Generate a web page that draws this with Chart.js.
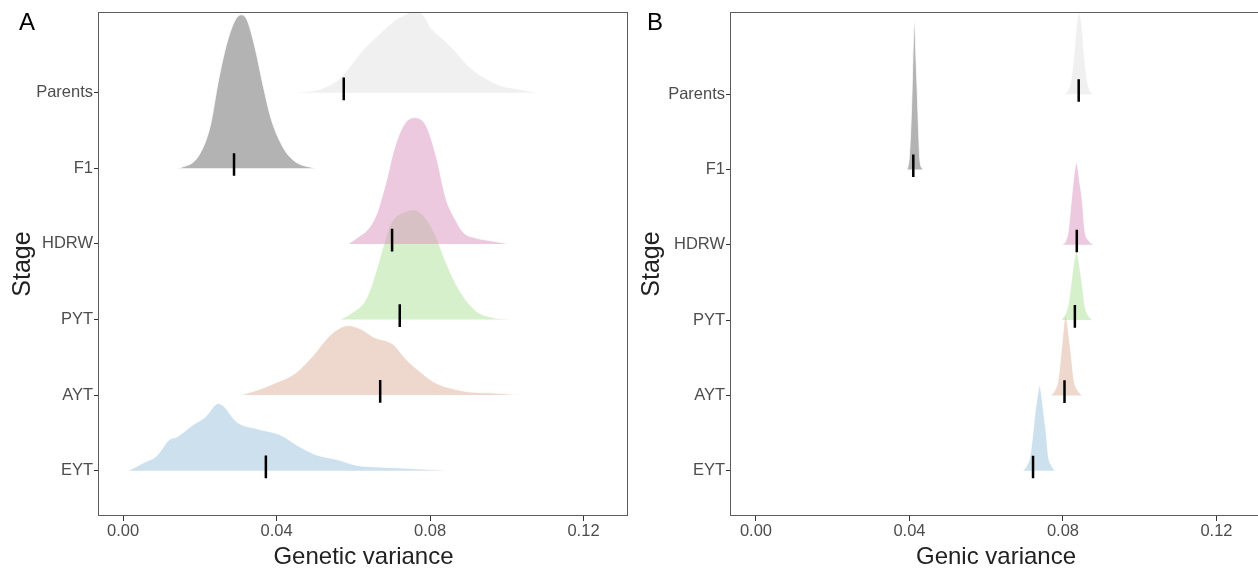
<!DOCTYPE html>
<html>
<head>
<meta charset="utf-8">
<script src="https://cdn.jsdelivr.net/npm/chart.js@4.4.1/dist/chart.umd.min.js"></script>
<style>
    body { margin: 0; width: 1258px; height: 573px; overflow: hidden; position: relative; background: #fff; }
    .panel { position: absolute; top: 0; height: 573px; }
    .tag { position: absolute; font-family: "Liberation Sans", Arial, sans-serif; font-size: 24px; color: #000; }
</style>
</head>
<body>
<div class="panel" style="left:0;width:629px"><canvas id="genetic-chart"></canvas></div>
<div class="panel" style="left:629px;width:632px"><canvas id="genic-chart"></canvas></div>
<div class="tag" style="left:19px;top:8px">A</div>
<div class="tag" style="left:647px;top:8px">B</div>
<script>
'use strict';

// stages from bottom (1) to top (6)
const stages = ['EYT', 'AYT', 'PYT', 'HDRW', 'F1', 'Parents'];
const stageLevels = [1, 2, 3, 4, 5, 6];
const xTickValues = [0, 0.04, 0.08, 0.12];

// A: genetic variance, ridge x values and scaled density heights
const geneticParentsX = [0.0451, 0.0516, 0.0558, 0.0576, 0.0623, 0.0665, 0.0707, 0.0735, 0.0761, 0.0782, 0.0803, 0.0829, 0.0858, 0.0900, 0.0944, 0.0986, 0.1027, 0.1082];
const geneticParentsD = [0, 0.05, 0.16, 0.25, 0.55, 0.76, 0.95, 1.03, 1.08, 1.03, 0.85, 0.73, 0.59, 0.35, 0.19, 0.09, 0.05, 0];
const geneticF1X = [0.0141, 0.0151, 0.0196, 0.0227, 0.0248, 0.0269, 0.0292, 0.0308, 0.0323, 0.0344, 0.0365, 0.0386, 0.0420, 0.0451, 0.0501];
const geneticF1D = [0, 0.01, 0.16, 0.56, 1.15, 1.63, 1.96, 2.03, 1.96, 1.59, 1.09, 0.65, 0.25, 0.08, 0];
const geneticHdrwX = [0.0587, 0.0610, 0.0641, 0.0662, 0.0673, 0.0689, 0.0704, 0.0730, 0.0759, 0.0790, 0.0816, 0.0842, 0.0866, 0.0887, 0.0918, 0.0960, 0.1004];
const geneticHdrwD = [0, 0.08, 0.21, 0.41, 0.59, 0.89, 1.21, 1.56, 1.67, 1.56, 1.16, 0.59, 0.32, 0.15, 0.08, 0.04, 0];
const geneticPytX = [0.0566, 0.0597, 0.0631, 0.0652, 0.0673, 0.0694, 0.0709, 0.0738, 0.0756, 0.0780, 0.0811, 0.0842, 0.0876, 0.0918, 0.0960, 0.1009];
const geneticPytD = [0, 0.09, 0.25, 0.52, 0.88, 1.23, 1.35, 1.43, 1.45, 1.39, 1.15, 0.75, 0.39, 0.12, 0.03, 0];
const geneticAytX = [0.0305, 0.0352, 0.0396, 0.0449, 0.0493, 0.0535, 0.0566, 0.0587, 0.0621, 0.0652, 0.0704, 0.0738, 0.0769, 0.0811, 0.0855, 0.0907, 0.0960, 0.1035];
const geneticAytD = [0, 0.07, 0.16, 0.29, 0.51, 0.77, 0.89, 0.92, 0.87, 0.77, 0.67, 0.47, 0.33, 0.17, 0.09, 0.04, 0.03, 0];
const geneticEytX = [0.0013, 0.0055, 0.0086, 0.0120, 0.0141, 0.0183, 0.0214, 0.0248, 0.0263, 0.0295, 0.0352, 0.0407, 0.0459, 0.0503, 0.0555, 0.0610, 0.0662, 0.0704, 0.0748, 0.0855];
const geneticEytD = [0, 0.11, 0.19, 0.41, 0.45, 0.61, 0.71, 0.89, 0.85, 0.65, 0.55, 0.48, 0.32, 0.21, 0.15, 0.07, 0.05, 0.04, 0.03, 0];
// mean marks, same order as stages
const geneticMeans = [0.0372, 0.0670, 0.0721, 0.0701, 0.0289, 0.0575];

// B: genic variance
const genicParentsX = [0.0805, 0.0813, 0.0821, 0.0829, 0.0833, 0.0837, 0.0842, 0.0847, 0.0851, 0.0855, 0.0863, 0.0870, 0.0878];
const genicParentsD = [0, 0.05, 0.19, 0.55, 0.81, 0.99, 1.08, 0.99, 0.81, 0.55, 0.19, 0.05, 0];
const genicF1X = [0.0394, 0.0399, 0.0403, 0.0407, 0.0409, 0.0413, 0.0417, 0.0420, 0.0424, 0.0427, 0.0435];
const genicF1D = [0, 0.13, 0.48, 1.07, 1.47, 1.97, 1.47, 1.07, 0.48, 0.13, 0];
const genicHdrwX = [0.0797, 0.0807, 0.0814, 0.0822, 0.0827, 0.0831, 0.0835, 0.0839, 0.0843, 0.0850, 0.0857, 0.0868, 0.0881];
const genicHdrwD = [0, 0.05, 0.19, 0.6, 0.85, 1.01, 1.09, 1.01, 0.85, 0.6, 0.19, 0.05, 0];
const genicPytX = [0.0795, 0.0805, 0.0813, 0.0820, 0.0826, 0.0831, 0.0835, 0.0839, 0.0844, 0.0851, 0.0857, 0.0865, 0.0876];
const genicPytD = [0, 0.07, 0.19, 0.44, 0.69, 0.85, 0.93, 0.85, 0.69, 0.44, 0.19, 0.07, 0];
const genicAytX = [0.0769, 0.0779, 0.0787, 0.0794, 0.0799, 0.0803, 0.0807, 0.0811, 0.0816, 0.0822, 0.0829, 0.0838, 0.0850];
const genicAytD = [0, 0.07, 0.19, 0.51, 0.77, 0.97, 1.07, 0.97, 0.77, 0.51, 0.19, 0.07, 0];
const genicEytX = [0.0696, 0.0706, 0.0714, 0.0722, 0.0728, 0.0734, 0.0739, 0.0744, 0.0749, 0.0756, 0.0762, 0.0770, 0.0779];
const genicEytD = [0, 0.07, 0.19, 0.51, 0.8, 1.01, 1.13, 1.01, 0.8, 0.51, 0.19, 0.07, 0];
const genicMeans = [0.0722, 0.0804, 0.0831, 0.0836, 0.0410, 0.0841];

const ridgeColors = ['rgba(155,193,221,0.5)', 'rgba(221,177,157,0.5)', 'rgba(173,225,153,0.5)',
    'rgba(217,147,191,0.5)', 'rgba(103,103,103,0.5)', 'rgba(225,225,225,0.5)'];
const fontFamily = '"Liberation Sans", Arial, Helvetica, sans-serif';

window.panelBox = {
    id: 'panelBox',
    afterDatasetsDraw: function (chart) {
        const a = chart.chartArea;
        const ctx = chart.ctx;
        ctx.save();
        ctx.strokeStyle = '#5c5c5c';
        ctx.lineWidth = 1;
        ctx.strokeRect(Math.round(a.left) - 0.5, Math.round(a.top) + 0.5,
            Math.round(a.right - a.left), Math.round(a.bottom - a.top) - 1);
        ctx.restore();
    },
};

window.buildRidges = function (xsList, dsList, means) {
    let datasets = [];
    xsList.forEach(function (xs, i) {
        let base = stageLevels[i];
        datasets.push({
            data: xs.map(function (x, j) { return {x: x, y: base + dsList[i][j]}; }),
            fill: {value: base},
            backgroundColor: ridgeColors[i],
            borderColor: '#ffffff',
            borderWidth: 0.8,
            pointRadius: 0,
            cubicInterpolationMode: 'monotone',
            order: 10 - i,
        });
    });
    let marks = [];
    means.forEach(function (m, i) {
        marks.push({x: m, y: stageLevels[i] - 0.1});
        marks.push({x: m, y: stageLevels[i] + 0.2});
        marks.push({x: m, y: null});
    });
    datasets.push({
        data: marks,
        borderColor: '#000000',
        borderWidth: 2.5,
        pointRadius: 0,
        fill: false,
        spanGaps: false,
        order: 0,
    });
    return datasets;
};

window.makePanel = function (canvasId, datasets, xTitle, xMin, xMax, yMin, yMax, yAxisWidth, padRight) {
    const ctx = document.getElementById(canvasId).getContext('2d');
    return new Chart(ctx, {
        type: 'line',
        data: {datasets: datasets},
        options: {
            responsive: true,
            maintainAspectRatio: false,
            animation: false,
            layout: {padding: {top: 12, right: padRight, bottom: 0, left: 0}},
            plugins: {legend: {display: false}, tooltip: {enabled: false}},
            scales: {
                x: {
                    type: 'linear',
                    min: xMin,
                    max: xMax,
                    afterBuildTicks: function (s) {
                        s.ticks = xTickValues.map(function (v) { return {value: v}; });
                    },
                    afterFit: function (s) { s.height = 57; },
                    ticks: {
                        callback: function (v) { return Number(v).toFixed(2); },
                        font: {family: fontFamily, size: 16.5},
                        color: '#4d4d4d',
                        padding: 1,
                        maxRotation: 0,
                    },
                    grid: {drawOnChartArea: false, drawTicks: true, tickLength: 5, color: '#333333'},
                    border: {display: false},
                    title: {
                        display: true,
                        text: xTitle,
                        font: {family: fontFamily, size: 24},
                        color: '#222222',
                        padding: {top: 0, bottom: 1},
                    },
                },
                y: {
                    type: 'linear',
                    min: yMin,
                    max: yMax,
                    afterBuildTicks: function (s) {
                        s.ticks = stageLevels.map(function (v) { return {value: v}; });
                    },
                    afterFit: function (s) { s.width = yAxisWidth; },
                    ticks: {
                        callback: function (v) { return stages[stageLevels.indexOf(v)]; },
                        font: {family: fontFamily, size: 16.5},
                        color: '#4d4d4d',
                        padding: 1,
                    },
                    grid: {drawOnChartArea: false, drawTicks: true, tickLength: 5, color: '#333333'},
                    border: {display: false},
                    title: {
                        display: true,
                        text: 'Stage',
                        font: {family: fontFamily, size: 25},
                        color: '#222222',
                        padding: {top: 8, bottom: 0},
                    },
                },
            },
        },
        plugins: [panelBox],
    });
};

makePanel('genetic-chart',
    buildRidges([geneticEytX, geneticAytX, geneticPytX, geneticHdrwX, geneticF1X, geneticParentsX],
        [geneticEytD, geneticAytD, geneticPytD, geneticHdrwD, geneticF1D, geneticParentsD], geneticMeans),
    'Genetic variance', -0.0063, 0.1316, 0.401, 7.067, 99, 1);

makePanel('genic-chart',
    buildRidges([genicEytX, genicAytX, genicPytX, genicHdrwX, genicF1X, genicParentsX],
        [genicEytD, genicAytD, genicPytD, genicHdrwD, genicF1D, genicParentsD], genicMeans),
    'Genic variance', -0.0065, 0.1316, 0.398, 7.093, 102, 0);
</script>
</body>
</html>
